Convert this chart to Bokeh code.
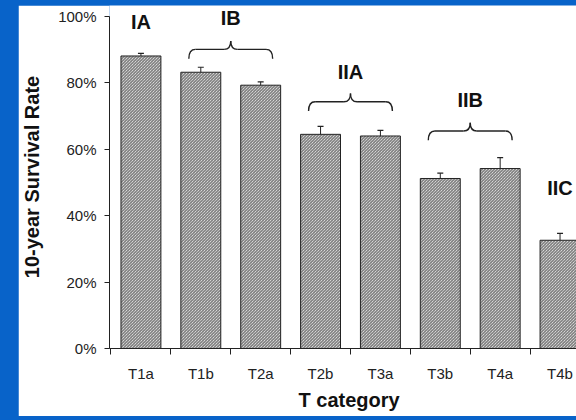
from bokeh.plotting import figure
from bokeh.models import FixedTicker, PrintfTickFormatter, Title, Range1d
from bokeh.core.properties import value
from bokeh.embed import file_html
from bokeh.resources import INLINE

# ---- data ----
categories = ["T1a", "T1b", "T2a", "T2b", "T3a", "T3b", "T4a", "T4b"]
survival = [88.1, 83.2, 79.3, 64.5, 64.0, 51.2, 54.2, 32.6]
errors = [0.8, 1.5, 1.0, 2.4, 1.7, 1.6, 3.3, 2.1]
y_ticks = [0, 20, 40, 60, 80, 100]

group_names = ["IA", "IB", "IIA", "IIB", "IIC"]
group_first = [0, 1, 3, 5, 7]
group_last = [0, 2, 4, 6, 7]
group_label_y = [98.2, 99.4, 83.3, 74.8, 48.3]
group_brace_y = [None, 90.1, 74.3, 65.5, None]

# ---- style ----
FONT = "Liberation Sans"
BLUE = "#0863c9"
INK = "#222222"

xs = [i + 0.5 for i in range(len(categories))]

p = figure(width=558, height=411, output_backend="svg", toolbar_location=None,
           x_range=Range1d(-0.025, 7.775), y_range=Range1d(0, 103.3),
           min_border_left=90, min_border_right=0, min_border_top=0,
           min_border_bottom=68, background_fill_color="white",
           border_fill_color="white", outline_line_color=None)
p.grid.visible = False

# bars
p.vbar(x=xs, top=survival, bottom=0, width=0.667, fill_color="white",
       line_color=INK, line_width=1, hatch_pattern="\\", hatch_scale=3,
       hatch_weight=1, hatch_color="#606060")

# error bars (upper only)
err_top = [v + e for v, e in zip(survival, errors)]
p.segment(x0=xs, y0=survival, x1=xs, y1=err_top, line_color=INK, line_width=1)
p.segment(x0=[x - 0.05 for x in xs], y0=err_top, x1=[x + 0.05 for x in xs],
          y1=err_top, line_color=INK, line_width=1.2)

# group braces
DROP, RISE, EXT, DX = 2.8, 2.5, 0.2, 0.11
for f, l, yb in zip(group_first, group_last, group_brace_y):
    if yb is None:
        continue
    xl = f + 0.5 - EXT
    xr = l + 0.5 + EXT
    xm = (f + l) / 2 + 0.5
    p.quadratic(x0=[xl, xr], y0=[yb - DROP] * 2, x1=[xl + DX, xr - DX], y1=[yb] * 2,
                cx=[xl, xr], cy=[yb] * 2, line_color=INK, line_width=1.4)
    p.segment(x0=[xl + DX, xm + DX], y0=[yb] * 2, x1=[xm - DX, xr - DX], y1=[yb] * 2,
              line_color=INK, line_width=1.4)
    p.quadratic(x0=[xm - DX, xm + DX], y0=[yb] * 2, x1=[xm, xm], y1=[yb + RISE] * 2,
                cx=[xm, xm], cy=[yb] * 2, line_color=INK, line_width=1.4)

# group labels
label_x = [(f + l) / 2 + 0.5 for f, l in zip(group_first, group_last)]
p.text(x=label_x, y=group_label_y, text=group_names, text_align="center",
       text_baseline="alphabetic", text_font=value(FONT), text_font_style="bold",
       text_font_size="20px", text_color="#111111")

# x axis
xax = p.xaxis[0]
xax.ticker = FixedTicker(ticks=xs, minor_ticks=list(range(len(categories) + 1)))
xax.major_label_overrides = {x: c for x, c in zip(xs, categories)}
xax.major_tick_out = 0
xax.major_tick_in = 0
xax.minor_tick_out = 6
xax.minor_tick_in = 0
xax.minor_tick_line_color = INK
xax.axis_line_color = INK
xax.major_label_standoff = 10
xax.major_label_text_font = FONT
xax.major_label_text_font_size = "15px"
xax.major_label_text_color = INK

# y axis
yax = p.yaxis[0]
yax.ticker = FixedTicker(ticks=y_ticks, minor_ticks=[])
yax.formatter = PrintfTickFormatter(format="%d%%")
yax.bounds = (0, 100)
yax.major_tick_out = 5
yax.major_tick_in = 0
yax.minor_tick_out = 0
yax.minor_tick_in = 0
yax.axis_line_color = INK
yax.major_tick_line_color = INK
yax.major_label_standoff = 8
yax.major_label_text_font = FONT
yax.major_label_text_font_size = "15px"
yax.major_label_text_color = INK
yax.axis_label = "10-year Survival Rate"
yax.axis_label_standoff = 12
yax.axis_label_text_font = FONT
yax.axis_label_text_font_style = "bold"
yax.axis_label_text_font_size = "20px"
yax.axis_label_text_color = "#111111"

# x axis title
p.add_layout(Title(text="T category", align="left", offset=189,
                   text_font=FONT, text_font_style="bold", text_font_size="20px",
                   text_color="#111111", standoff=4), "below")

html = file_html(p, INLINE, title="10-year survival")
head_end = html.find("</head>")
body_pos = html.find("<body", head_end)
body_close = html.find(">", body_pos)
html = (html[:body_pos]
        + '<body style="margin:5px 0 0 18px; background-color:%s;">' % BLUE
        + html[body_close + 1:])
open("out.html", "w").write(html)
